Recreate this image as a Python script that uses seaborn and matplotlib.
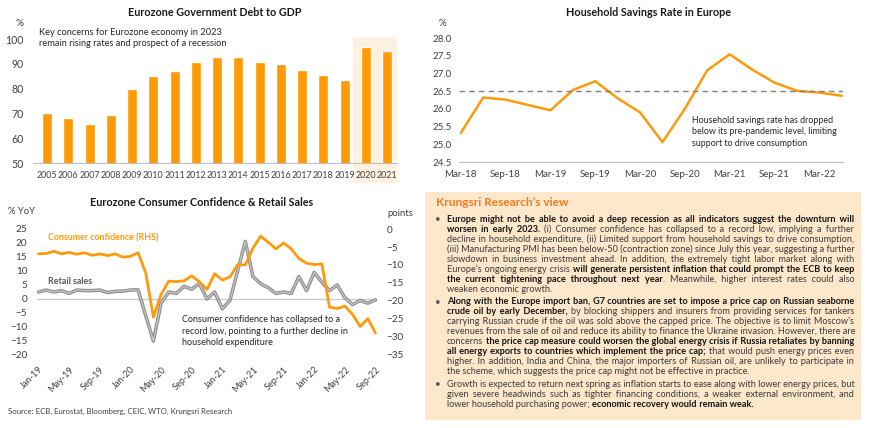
#Eurozone debt, savings and consumer confidence chart panel with research view text
import numpy as np
import pandas as pd
import seaborn as sns
import matplotlib.pyplot as plt
import matplotlib.patheffects as pe
import matplotlib.transforms as mtransforms
from matplotlib.patches import Rectangle
from matplotlib.font_manager import FontProperties

#data
years = [str(y) for y in range(2005, 2022)]
debt = [70.2, 68.1, 65.7, 69.5, 79.8, 85.2, 87.2, 90.6, 92.6, 92.7, 90.7, 90.1, 87.5, 85.5, 83.5, 96.6, 95.2]

sav_labels = ['Mar-18', 'Jun-18', 'Sep-18', 'Dec-18', 'Mar-19', 'Jun-19', 'Sep-19', 'Dec-19', 'Mar-20',
              'Jun-20', 'Sep-20', 'Dec-20', 'Mar-21', 'Jun-21', 'Sep-21', 'Dec-21', 'Mar-22', 'Jun-22']
savings = [25.32, 26.32, 26.26, 26.11, 25.96, 26.53, 26.78, 26.30, 25.90,
           25.06, 26.00, 27.09, 27.54, 27.11, 26.74, 26.51, 26.46, 26.37]
pre_pandemic = 26.5

months = pd.date_range('2019-01-01', periods=45, freq='MS').strftime('%b-%y').tolist()
retail = [2.5, 3.2, 2.5, 3.0, 2.0, 3.2, 3.0, 3.0, 3.2, 2.3, 2.7, 2.8,
          3.2, 3.3, -6.0, -15.0, -1.5, 2.5, 2.0, 4.5, 3.5, 5.5, 0.0, 2.5,
          -3.5, -0.5, 10.0, 20.6, 8.0, 5.5, 4.0, 2.0, 2.5, 2.0, 8.0, 3.0,
          9.5, 6.0, 3.0, 5.0, 0.5, -2.0, -0.5, -1.5, -0.3]
confidence = [-6.9, -6.8, -6.2, -6.9, -6.5, -7.0, -6.6, -7.3, -6.9, -7.4, -6.9, -7.8,
              -7.6, -6.6, -12.2, -24.5, -18.2, -14.5, -14.6, -14.4, -13.0, -14.7, -16.8, -12.4,
              -14.2, -13.3, -9.9, -10.0, -5.3, -2.0, -3.7, -5.5, -3.9, -5.5, -8.2, -9.5,
              -9.9, -9.7, -21.7, -22.1, -21.4, -23.7, -27.1, -24.9, -28.9]

#text panel: each line is a list of (text, bold) pieces
para1 = [
    [("Europe might not be able to avoid a deep recession as all indicators suggest the downturn will", True)],
    [("worsen in early 2023.", True), (" (i) Consumer confidence has collapsed to a record low, implying a further", False)],
    [("decline in household expenditure, (ii) Limited support from household savings to drive consumption,", False)],
    [("(iii) Manufacturing PMI has been below-50 (contraction zone) since July this year, suggesting a further", False)],
    [("slowdown in business investment ahead. In addition, the extremely tight labor market along with", False)],
    [("Europe\u2019s ongoing energy crisis ", False), ("will generate persistent inflation that could prompt the ECB to keep", True)],
    [("the current tightening pace throughout next year", True), (". Meanwhile, higher interest rates could also", False)],
    [("weaken economic growth.", False)],
]
para2 = [
    [("Along with the Europe import ban, G7 countries are set to impose a price cap on Russian seaborne", True)],
    [("crude oil by early December,", True), (" by blocking shippers and insurers from providing services for tankers", False)],
    [("carrying Russian crude if the oil was sold above the capped price. The objective is to limit Moscow\u2019s", False)],
    [("revenues from the sale of oil and reduce its ability to finance the Ukraine invasion. However, there are", False)],
    [("concerns ", False), ("the price cap measure could worsen the global energy crisis if Russia retaliates by banning", True)],
    [("all energy exports to countries which implement the price cap;", True), (" that would push energy prices even", False)],
    [("higher. In addition, India and China, the major importers of Russian oil, are unlikely to participate in", False)],
    [("the scheme, which suggests the price cap might not be effective in practice.", False)],
]
para3 = [
    [("Growth is expected to return next spring as inflation starts to ease along with lower energy prices, but", False)],
    [("given severe headwinds such as tighter financing conditions, a weaker external environment, and", False)],
    [("lower household purchasing power; ", False), ("economic recovery would remain weak.", True)],
]
paragraphs = [para1, para2, para3]
para_top = [220, 302, 385]

BAR = '#FF9A05'
LINE = '#FF9A0D'
TXT = '#404040'
FAM = ['Lato', 'DejaVu Sans']

sns.set_style('white')
plt.rcParams['font.family'] = FAM

W, H = 870, 428
fig = plt.figure(figsize=(W / 100, H / 100), dpi=100)
renderer = fig.canvas.get_renderer()


def px_axes(l, t, r, b):
    return fig.add_axes([l / W, 1 - b / H, (r - l) / W, (b - t) / H])


def ftext(x, y, s, **kw):
    return fig.text(x / W, 1 - y / H, s, **kw)


def width_px(s, bold, size):
    fp = FontProperties(family=FAM, weight='bold' if bold else 'normal', size=size)
    return renderer.get_text_width_height_descent(s, fp, ismath=False)[0]


def fit(s, bold, target):
    return 10 * target / width_px(s, bold, 10)


# ---- Eurozone Government Debt to GDP ----
ax1 = px_axes(33, 39, 397, 163)
ax1.patch.set_alpha(0)
trans = mtransforms.blended_transform_factory(ax1.transData, ax1.transAxes)
ax1.add_patch(Rectangle((14.4, -0.165), 2.05, 1.18, transform=trans, facecolor='#FEF1DF',
                        edgecolor='none', clip_on=False, zorder=0))
sns.barplot(x=years, y=debt, color=BAR, saturation=1, width=0.47, ax=ax1, zorder=2)
ax1.set_ylim(50, 100)
ax1.set_xlim(-0.66, 16.47)
ax1.set_yticks(range(50, 101, 10))
for s in ['top', 'right', 'left']:
    ax1.spines[s].set_visible(False)
ax1.spines['bottom'].set_color('#bfbfbf')
ax1.tick_params(length=0, colors=TXT)
ax1.tick_params(axis='y', labelsize=7.6, pad=7)
ax1.tick_params(axis='x', labelsize=6.4, pad=6)
ax1.set_xlabel('')
ax1.set_ylabel('')
t = 'Eurozone Government Debt to GDP'
ftext(215, 13, t, ha='center', va='center', fontweight='bold', color='#1a1a1a', fontsize=fit(t, True, 174))
ftext(20, 24, '%', ha='center', va='center', color=TXT, fontsize=7.2, zorder=5)
t = 'Key concerns for Eurozone economy in 2023'
fs = fit(t, False, 183)
ftext(39, 38, t + '\nremain rising rates and prospect of a recession', ha='left', va='center',
      color='#262626', fontsize=fs, linespacing=1.3)

# ---- Household Savings Rate in Europe ----
ax2 = px_axes(459, 38, 843, 162)
xs = np.arange(len(savings))
sns.lineplot(x=xs, y=savings, color=LINE, lw=1.8, ax=ax2)
ax2.axhline(pre_pandemic, color='#7f7f7f', lw=1, ls=(0, (4, 3)))
ax2.set_ylim(24.5, 28.0)
ax2.set_xlim(-0.08, 17.06)
yt = np.arange(24.5, 28.01, 0.5)
ax2.set_yticks(yt)
ax2.set_yticklabels([f'{v:.1f}' for v in yt])
ax2.set_xticks(xs[::2])
ax2.set_xticklabels(sav_labels[::2])
for s in ['top', 'right', 'left']:
    ax2.spines[s].set_visible(False)
ax2.spines['bottom'].set_color('#bfbfbf')
ax2.tick_params(length=0, colors=TXT)
ax2.tick_params(axis='y', labelsize=7, pad=5)
ax2.tick_params(axis='x', labelsize=7, pad=6)
t = 'Household Savings Rate in Europe'
ftext(648, 13, t, ha='center', va='center', fontweight='bold', color='#1a1a1a', fontsize=fit(t, True, 164))
ftext(442, 23, '%', ha='center', va='center', color=TXT, fontsize=7)
t = 'Household savings rate has dropped'
fs = fit(t, False, 142)
ftext(692, 132, t + '\nbelow its pre-pandemic level, limiting\nsupport to drive consumption',
      ha='left', va='center', color='#262626', fontsize=fs, linespacing=1.35)

# ---- Eurozone Consumer Confidence & Retail Sales ----
ax3 = px_axes(37, 229, 377, 355)
xm = np.arange(len(months))
ax3.axhline(0, color='#c8c8c8', lw=0.9)
sns.lineplot(x=xm, y=retail, color='#c4c4c4', lw=1.0, ax=ax3,
             path_effects=[pe.Stroke(linewidth=2.5, foreground='#8a8a8a'), pe.Normal()])
ax3.set_ylim(-20, 25)
ax3.set_yticks(range(-20, 26, 5))
ax3.set_xlim(-0.2, 44.2)
ax3.set_xticks(xm[::4])
ax3.set_xticklabels(months[::4])
ax3b = ax3.twinx()
sns.lineplot(x=xm, y=confidence, color=LINE, lw=2, ax=ax3b)
ax3b.set_ylim(-35, 0)
ax3b.set_yticks(range(-35, 1, 5))
for a in (ax3, ax3b):
    for s in a.spines.values():
        s.set_visible(False)
    a.tick_params(length=0, colors=TXT, labelsize=7.2)
    a.set_xlabel('')
    a.set_ylabel('')
ax3.tick_params(axis='y', pad=7)
ax3b.tick_params(axis='y', pad=7)
ax3.tick_params(axis='x', labelsize=6.6, pad=7)
for lbl in ax3.get_xticklabels():
    lbl.set_rotation(45)
    lbl.set_ha('right')
    lbl.set_rotation_mode('anchor')
t = 'Eurozone Consumer Confidence & Retail Sales'
ftext(202, 202, t, ha='center', va='center', fontweight='bold', color='#1a1a1a', fontsize=fit(t, True, 222))
ftext(8, 211, '% YoY', ha='left', va='center', color=TXT, fontsize=6.8)
ftext(387, 213, 'points', ha='left', va='center', color=TXT, fontsize=6.8)
t = 'Consumer confidence (RHS)'
fs = fit(t, True, 111)
ftext(48, 238, t, ha='left', va='center', color=LINE, fontweight='bold', fontsize=fs)
ftext(48, 281, 'Retail sales', ha='left', va='center', color='#595959', fontweight='bold', fontsize=fs)
t = 'Consumer confidence has collapsed to a'
fs = fit(t, False, 158)
ftext(182, 331, t + '\nrecord low, pointing to a further decline in\nhousehold expenditure',
      ha='left', va='center', color='#262626', fontsize=fs, linespacing=1.3)
ftext(8, 411, 'Source: ECB, Eurostat, Bloomberg, CEIC, WTO, Krungsri Research', ha='left', va='center',
      color=TXT, fontsize=5.6)

# ---- Krungsri Research's view ----
fig.add_artist(Rectangle((425 / W, 1 - 420 / H), 436 / W, 228 / H, transform=fig.transFigure,
                         facecolor='#FDE8CB', edgecolor='none', zorder=0))
ftext(436, 203, 'Krungsri Research\u2019s view', ha='left', va='center', color='#F47B20',
      fontweight='bold', fontsize=8.6)

LEFT, RIGHT = 447, 854


def line_pieces(line):
    #word, bold, segment number, starts a new word group
    pieces = []
    prev_space = True
    for si, (txt, b) in enumerate(line):
        glue = not txt.startswith(' ') and not prev_space
        for j, w in enumerate(txt.split()):
            pieces.append((w, b, si, not (j == 0 and glue and pieces)))
        prev_space = txt.endswith(' ')
    return pieces


def natural_width(line, size):
    ps = line_pieces(line)
    sp = width_px('a a', False, size) - width_px('aa', False, size)
    n = sum(p[3] for p in ps)
    return sum(width_px(p[0], p[1], size) for p in ps) + sp * (n - 1)


ref = 7.0
ratios = [(RIGHT - LEFT) / natural_width(line, ref) for para in paragraphs for line in para[:-1]]
body_fs = min(7.4, ref * min(ratios))

HAIR = '\u200a'
space_w = {b: width_px('a a', b, body_fs) - width_px('aa', b, body_fs) for b in (False, True)}
hair_w = {b: width_px('a' + HAIR + 'a', b, body_fs) - width_px('aa', b, body_fs) for b in (False, True)}
if min(hair_w.values()) < 0.2:
    HAIR = '\u2009'
    hair_w = {b: width_px('a' + HAIR + 'a', b, body_fs) - width_px('aa', b, body_fs) for b in (False, True)}

for para, top in zip(paragraphs, para_top):
    ftext(438, top, '\u2022', ha='center', va='center', color='#595959', fontsize=7)
    for k, line in enumerate(para):
        y = top + 10 * k + 2.4
        ps = line_pieces(line)
        ws = [width_px(p[0], p[1], body_fs) for p in ps]
        n_units = sum(p[3] for p in ps)
        if k < len(para) - 1 and n_units > 1:
            gap = (RIGHT - LEFT - sum(ws)) / (n_units - 1)
        else:
            gap = space_w[False]
        xpos = []
        x = LEFT
        for i, p in enumerate(ps):
            if i > 0 and p[3]:
                x += gap
            xpos.append(x)
            x += ws[i]
        #one text per segment, gaps filled with a space plus hair spaces
        for si in range(len(line)):
            idx = [i for i, p in enumerate(ps) if p[2] == si]
            if not idx:
                continue
            b = ps[idx[0]][1]
            s = ps[idx[0]][0]
            cur = xpos[idx[0]] + ws[idx[0]]
            for nxt in idx[1:]:
                g = xpos[nxt] - cur
                nh = max(0, int(round((g - space_w[b]) / hair_w[b])))
                s += ' ' + HAIR * nh + ps[nxt][0]
                cur += space_w[b] + nh * hair_w[b] + ws[nxt]
            ftext(xpos[idx[0]], y, s, ha='left', va='baseline', fontsize=body_fs,
                  fontweight='bold' if b else 'normal', color='#141414' if b else '#3a3a3a')

fig.savefig('out.png', dpi=100)
plt.close()
